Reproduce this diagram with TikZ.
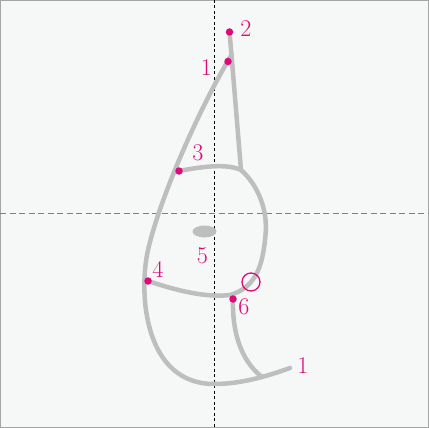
\documentclass[tikz,border=0pt]{standalone}
\usepackage{fontspec}
\begin{document}
\begin{tikzpicture}[x=1pt,y=-1pt,
  curve/.style={draw=curvegray,line width=4.5pt,line cap=round,line join=round},
  pdot/.style={circle,fill=mag,inner sep=0pt,minimum size=7.5pt},
  lab/.style={text=mag,font=\fontsize{24}{24}\selectfont,inner sep=0pt}]
\definecolor{mag}{RGB}{222,10,122}
\definecolor{curvegray}{RGB}{190,190,190}
\definecolor{bg}{RGB}{246,247,247}
\definecolor{framegray}{RGB}{165,165,165}
\useasboundingbox (0,0) rectangle (429,428);
\fill[bg] (0,0) rectangle (429,428);
\draw[framegray,line width=1pt] (0.5,0.5) rectangle (428.5,427.5);
% axes
\draw[black,line width=1pt,dash pattern=on 3pt off 2.5pt] (214,0) -- (214,428);
\draw[gray,line width=1pt,dash pattern=on 6pt off 3.5pt] (0,213) -- (429,213);
% coordinates
\coordinate (j) at (231.5,55);
\coordinate (r) at (241,170);
\coordinate (b) at (214,384);
% stem and right edge
\draw[curve] (229.5,32) -- (j) -- (r);
% outer left curve
\draw[curve] (j) .. controls (205,98) and (162,190) .. (148,250)
  .. controls (138,295) and (145,384) .. (b)
  .. controls (240,384) and (265,377) .. (290,368);
% upper band and right lobe
\draw[curve] (179,171) .. controls (200,167) and (226,163) .. (r)
  .. controls (258,185) and (268,210) .. (265.5,235)
  .. controls (263,262) and (258,287) .. (230,295)
  .. controls (205,298) and (175,290) .. (148,281);
% inner line from 6
\draw[curve] (233,299) .. controls (232,330) and (240,360) .. (262,377);
% ellipse 5
\fill[curvegray] (204.5,231.5) ellipse [x radius=12, y radius=6];
% open circle
\node[circle,draw=mag,line width=1.3pt,minimum size=18pt,inner sep=0pt] (oc) at (251,282) {};
% dots
\node[pdot] (d2) at (229.5,32) {};
\node[pdot] (d1) at (228,61.5) {};
\node[pdot] (d3) at (179,171) {};
\node[pdot] (d4) at (148,281) {};
\node[pdot] (d6) at (233,299) {};
% labels
\node[lab] (l2) at (246,29) {2};
\node[lab] (l1) at (206.5,68) {1};
\node[lab] (l3) at (198,153) {3};
\node[lab] (l4) at (158,269) {4};
\node[lab] (l5) at (202.5,256) {5};
\node[lab] (l6) at (244,307) {6};
\node[lab] (l1b) at (303,366) {1};
\end{tikzpicture}
\end{document}
